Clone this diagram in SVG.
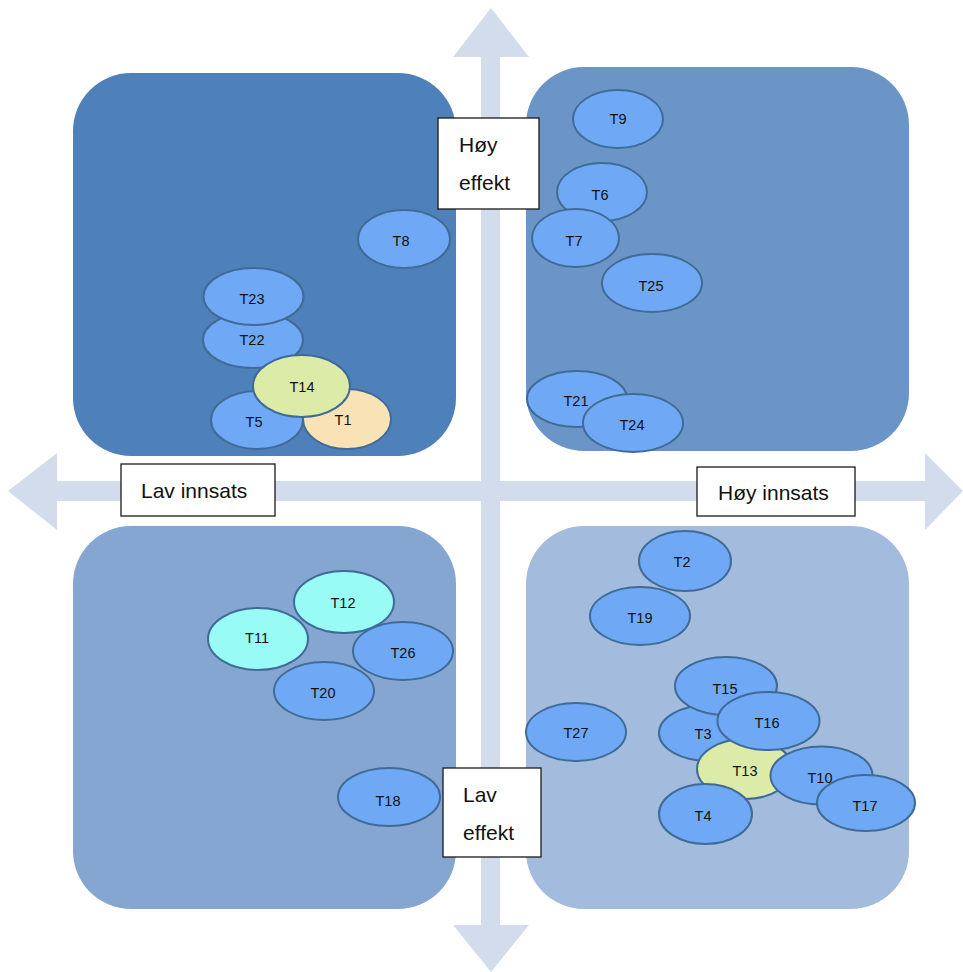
<svg xmlns="http://www.w3.org/2000/svg" width="963" height="972" viewBox="0 0 963 972">
<style>
.q{stroke:none}
.e{fill:#6FA9F5;stroke:#3F6B96;stroke-width:2}
.g{fill:#DCEBA7}
.p{fill:#F9E3B6}
.c{fill:#98FBF6}
.t{font-family:"Liberation Sans",Arial,sans-serif;font-size:14.5px;fill:#111;text-anchor:middle}
.lb{fill:#fff;stroke:#1a1a1a;stroke-width:1.3}
.lt{font-family:"Liberation Sans",Arial,sans-serif;font-size:21px;fill:#111}
.ar{fill:#D2DCEC}
</style>
<rect width="963" height="972" fill="#fff"/>
<g id="axes">
<polygon class="ar" points="491,8 529,57 500,57 500,925 529,925 491,972 453,925 481,925 481,57 453,57"/>
<polygon class="ar" points="8,491 57,453 57,481 925,481 925,453 963,491 925,530 925,501 57,501 57,530"/>
</g>
<g id="quadrants">
<rect id="q-tl" class="q" x="73" y="73" width="383" height="383" rx="58" fill="#4E80B9"/>
<rect id="q-tr" class="q" x="526" y="67" width="383" height="384" rx="58" fill="#6A95C6"/>
<rect id="q-bl" class="q" x="73" y="526" width="383" height="383" rx="58" fill="#85A6D1"/>
<rect id="q-br" class="q" x="526" y="526" width="383" height="383" rx="58" fill="#A3BBDC"/>
</g>
<g id="connectors"></g>
<g id="T9"><ellipse class="e" cx="618" cy="119" rx="45" ry="29"/><text class="t" x="618" y="124">T9</text></g>
<g id="T6"><ellipse class="e" cx="602" cy="192" rx="45" ry="29"/><text class="t" x="600" y="200">T6</text></g>
<g id="T7"><ellipse class="e" cx="575.5" cy="238" rx="43.5" ry="29"/><text class="t" x="574" y="246">T7</text></g>
<g id="T25"><ellipse class="e" cx="652" cy="283" rx="50" ry="29"/><text class="t" x="651" y="291">T25</text></g>
<g id="T21"><ellipse class="e" cx="577" cy="399" rx="50" ry="28"/><text class="t" x="576" y="406">T21</text></g>
<g id="T24"><ellipse class="e" cx="633" cy="423" rx="50" ry="29"/><text class="t" x="632" y="430">T24</text></g>
<g id="T8"><ellipse class="e" cx="404" cy="239" rx="46" ry="29"/><text class="t" x="401" y="246">T8</text></g>
<g id="T22"><ellipse class="e" cx="253" cy="340" rx="50" ry="28"/><text class="t" x="252" y="345">T22</text></g>
<g id="T23"><ellipse class="e" cx="253.5" cy="296.5" rx="50" ry="28.5"/><text class="t" x="252" y="304">T23</text></g>
<g id="T5"><ellipse class="e" cx="257" cy="420" rx="46" ry="29"/><text class="t" x="254" y="427">T5</text></g>
<g id="T1"><ellipse class="e p" cx="347" cy="419" rx="44" ry="30"/><text class="t" x="343" y="425">T1</text></g>
<g id="T14"><ellipse class="e g" cx="301.5" cy="386" rx="48.5" ry="31"/><text class="t" x="302" y="392">T14</text></g>
<g id="T12"><ellipse class="e c" cx="344" cy="602" rx="50" ry="31"/><text class="t" x="343" y="608">T12</text></g>
<g id="T11"><ellipse class="e c" cx="258" cy="639" rx="50" ry="31"/><text class="t" x="257" y="643">T11</text></g>
<g id="T26"><ellipse class="e" cx="403" cy="651" rx="50" ry="29"/><text class="t" x="403" y="658">T26</text></g>
<g id="T20"><ellipse class="e" cx="324" cy="691" rx="50" ry="29"/><text class="t" x="323" y="698">T20</text></g>
<g id="T18"><ellipse class="e" cx="389" cy="797" rx="51" ry="29"/><text class="t" x="388" y="806">T18</text></g>
<g id="T2"><ellipse class="e" cx="685" cy="561" rx="46" ry="30"/><text class="t" x="682" y="567">T2</text></g>
<g id="T19"><ellipse class="e" cx="640" cy="616" rx="50" ry="29"/><text class="t" x="640" y="623">T19</text></g>
<g id="T27"><ellipse class="e" cx="576" cy="732" rx="50" ry="29"/><text class="t" x="576" y="738">T27</text></g>
<g id="T3"><ellipse class="e" cx="709" cy="733" rx="50" ry="28"/><text class="t" x="703" y="739">T3</text></g>
<g id="T15"><ellipse class="e" cx="726" cy="686" rx="51" ry="29"/><text class="t" x="725" y="694">T15</text></g>
<g id="T13"><ellipse class="e g" cx="745" cy="769" rx="48" ry="30"/><text class="t" x="745" y="776">T13</text></g>
<g id="T16"><ellipse class="e" cx="768.5" cy="721" rx="51" ry="29"/><text class="t" x="767" y="728">T16</text></g>
<g id="T10"><ellipse class="e" cx="821.5" cy="775.5" rx="51" ry="29"/><text class="t" x="820" y="783">T10</text></g>
<g id="T17"><ellipse class="e" cx="866" cy="803" rx="49" ry="28"/><text class="t" x="865" y="811">T17</text></g>
<g id="T4"><ellipse class="e" cx="705.5" cy="814" rx="46.5" ry="30"/><text class="t" x="703" y="821">T4</text></g>
<g id="label-hoy-effekt"><rect class="lb" x="438" y="118" width="101" height="91"/><text class="lt" x="459" y="152">Høy</text><text class="lt" x="459" y="190">effekt</text></g>
<g id="label-lav-effekt"><rect class="lb" x="443" y="768" width="98" height="89"/><text class="lt" x="463" y="802">Lav</text><text class="lt" x="463" y="840">effekt</text></g>
<g id="label-lav-innsats"><rect class="lb" x="121" y="464" width="154" height="52"/><text class="lt" x="141" y="498">Lav innsats</text></g>
<g id="label-hoy-innsats"><rect class="lb" x="697" y="467" width="158" height="49"/><text class="lt" x="718" y="500">Høy innsats</text></g>
</svg>
